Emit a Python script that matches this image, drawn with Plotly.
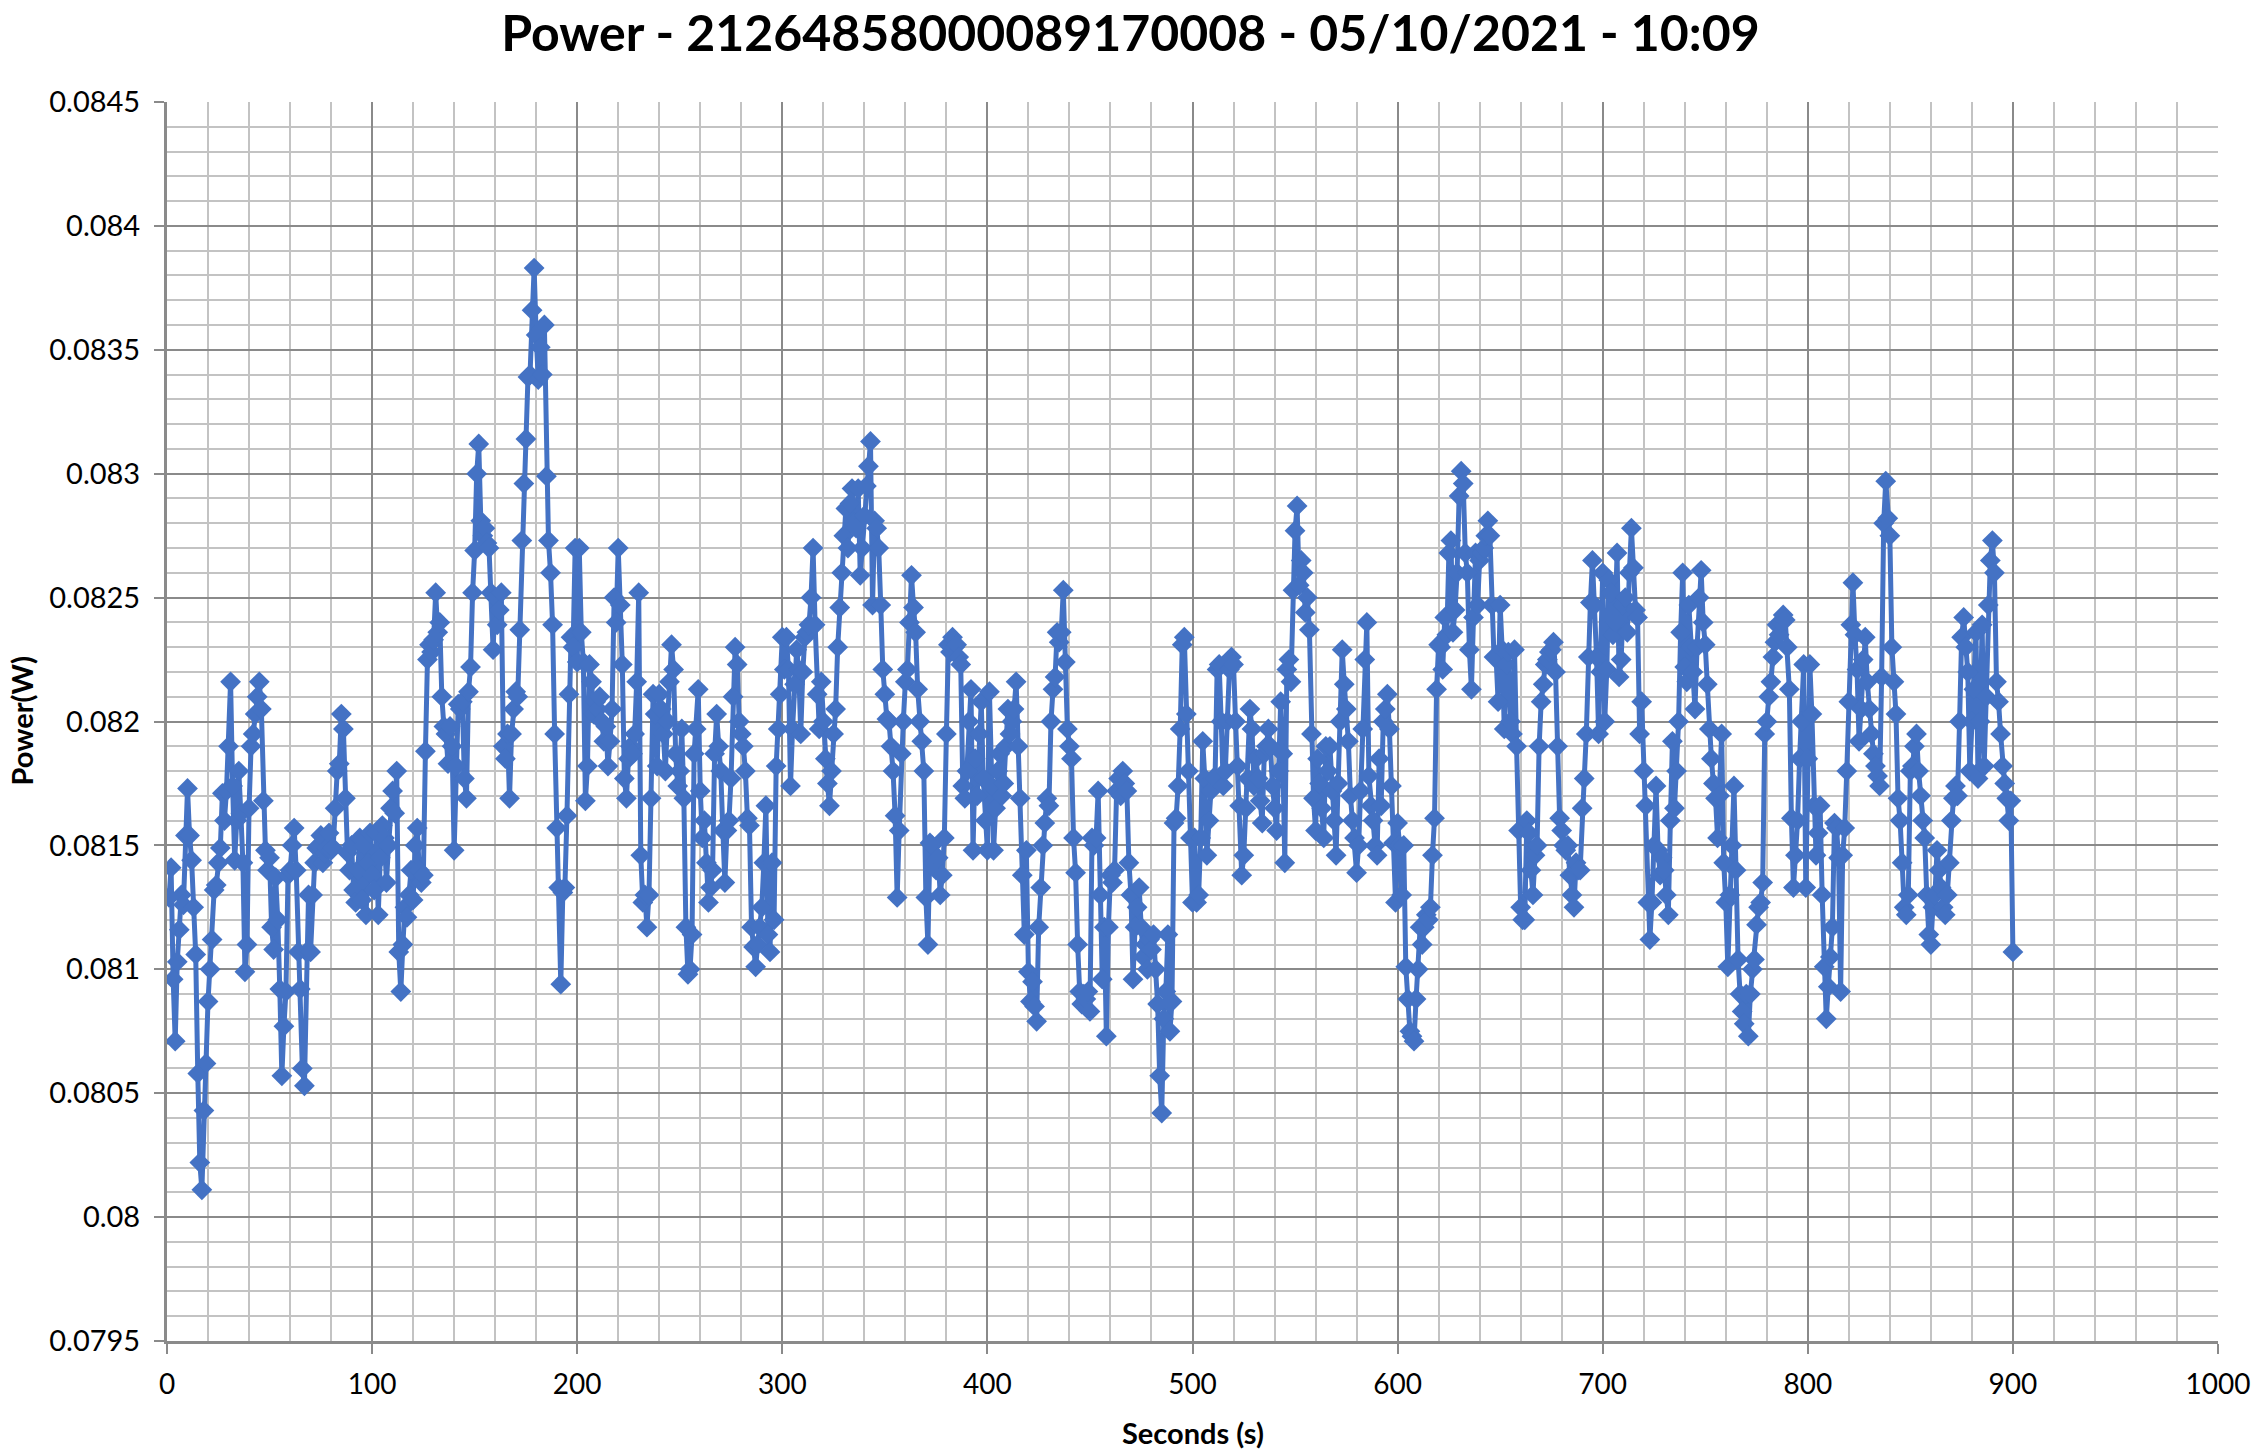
import plotly.graph_objects as go

# ---------------- data (one sample per second) ----------------
power_001_100 = [
    0.08129, 0.08141, 0.08096, 0.08071, 0.08103, 0.08116, 0.08130, 0.08126, 0.08154, 0.08173,
    0.08154, 0.08144, 0.08125, 0.08106, 0.08058, 0.08022, 0.08011, 0.08043, 0.08062, 0.08087,
    0.08100, 0.08112, 0.08132, 0.08134, 0.08143, 0.08149, 0.08171, 0.08160, 0.08172, 0.08190,
    0.08216, 0.08174, 0.08144, 0.08160, 0.08180, 0.08163, 0.08143, 0.08099, 0.08110, 0.08165,
    0.08190, 0.08195, 0.08203, 0.08210, 0.08216, 0.08205, 0.08168, 0.08148, 0.08140, 0.08145,
    0.08117, 0.08108, 0.08137, 0.08120, 0.08092, 0.08057, 0.08077, 0.08091, 0.08138, 0.08140,
    0.08150, 0.08157, 0.08140, 0.08107, 0.08092, 0.08060, 0.08053, 0.08107, 0.08130, 0.08107,
    0.08130, 0.08143, 0.08149, 0.08150, 0.08154, 0.08143, 0.08147, 0.08149, 0.08155, 0.08148,
    0.08149, 0.08165, 0.08180, 0.08183, 0.08203, 0.08197, 0.08169, 0.08147, 0.08140, 0.08150,
    0.08132, 0.08127, 0.08140, 0.08153, 0.08128, 0.08150, 0.08122, 0.08143, 0.08155, 0.08138,
]
power_101_200 = [
    0.08132, 0.08155, 0.08122, 0.08145, 0.08158, 0.08153, 0.08135, 0.08150, 0.08165, 0.08172,
    0.08163, 0.08180, 0.08107, 0.08091, 0.08110, 0.08125, 0.08121, 0.08130, 0.08140, 0.08128,
    0.08150, 0.08157, 0.08140, 0.08135, 0.08138, 0.08188, 0.08225, 0.08231, 0.08228, 0.08233,
    0.08252, 0.08236, 0.08240, 0.08210, 0.08198, 0.08195, 0.08183, 0.08198, 0.08190, 0.08148,
    0.08182, 0.08207, 0.08205, 0.08208, 0.08177, 0.08169, 0.08212, 0.08222, 0.08252, 0.08269,
    0.08300, 0.08312, 0.08281, 0.08275, 0.08278, 0.08272, 0.08270, 0.08252, 0.08229, 0.08250,
    0.08239, 0.08245, 0.08252, 0.08190, 0.08185, 0.08195, 0.08169, 0.08195, 0.08205, 0.08212,
    0.08210, 0.08237, 0.08273, 0.08296, 0.08314, 0.08339, 0.08340, 0.08366, 0.08383, 0.08356,
    0.08338, 0.08351, 0.08340, 0.08360, 0.08299, 0.08273, 0.08260, 0.08239, 0.08195, 0.08157,
    0.08133, 0.08094, 0.08131, 0.08133, 0.08162, 0.08211, 0.08234, 0.08230, 0.08270, 0.08224,
]
power_201_300 = [
    0.08270, 0.08236, 0.08224, 0.08168, 0.08182, 0.08223, 0.08216, 0.08203, 0.08208, 0.08205,
    0.08210, 0.08200, 0.08192, 0.08198, 0.08182, 0.08192, 0.08205, 0.08250, 0.08240, 0.08270,
    0.08247, 0.08223, 0.08177, 0.08169, 0.08185, 0.08190, 0.08187, 0.08195, 0.08216, 0.08252,
    0.08146, 0.08127, 0.08130, 0.08117, 0.08130, 0.08169, 0.08211, 0.08203, 0.08182, 0.08211,
    0.08205, 0.08195, 0.08180, 0.08200, 0.08216, 0.08231, 0.08221, 0.08187, 0.08174, 0.08180,
    0.08197, 0.08169, 0.08117, 0.08098, 0.08100, 0.08114, 0.08187, 0.08197, 0.08213, 0.08172,
    0.08153, 0.08160, 0.08143, 0.08127, 0.08133, 0.08140, 0.08187, 0.08203, 0.08190, 0.08180,
    0.08156, 0.08135, 0.08156, 0.08160, 0.08177, 0.08210, 0.08230, 0.08223, 0.08200, 0.08195,
    0.08190, 0.08180, 0.08161, 0.08158, 0.08117, 0.08109, 0.08101, 0.08110, 0.08117, 0.08125,
    0.08143, 0.08166, 0.08114, 0.08107, 0.08143, 0.08120, 0.08182, 0.08197, 0.08211, 0.08234,
]
power_301_400 = [
    0.08221, 0.08234, 0.08221, 0.08174, 0.08197, 0.08215, 0.08229, 0.08221, 0.08195, 0.08220,
    0.08234, 0.08236, 0.08239, 0.08250, 0.08270, 0.08239, 0.08211, 0.08197, 0.08216, 0.08200,
    0.08185, 0.08175, 0.08166, 0.08180, 0.08195, 0.08205, 0.08230, 0.08246, 0.08260, 0.08275,
    0.08286, 0.08270, 0.08288, 0.08294, 0.08280, 0.08278, 0.08294, 0.08259, 0.08270, 0.08283,
    0.08295, 0.08303, 0.08313, 0.08247, 0.08281, 0.08278, 0.08270, 0.08247, 0.08221, 0.08211,
    0.08201, 0.08200, 0.08190, 0.08180, 0.08162, 0.08129, 0.08156, 0.08187, 0.08200, 0.08216,
    0.08221, 0.08240, 0.08259, 0.08246, 0.08236, 0.08213, 0.08200, 0.08192, 0.08180, 0.08129,
    0.08110, 0.08151, 0.08150, 0.08143, 0.08140, 0.08145, 0.08130, 0.08138, 0.08153, 0.08195,
    0.08231, 0.08228, 0.08234, 0.08230, 0.08231, 0.08226, 0.08223, 0.08174, 0.08169, 0.08180,
    0.08200, 0.08213, 0.08148, 0.08185, 0.08170, 0.08195, 0.08208, 0.08177, 0.08160, 0.08148,
]
power_401_500 = [
    0.08212, 0.08174, 0.08148, 0.08165, 0.08180, 0.08187, 0.08170, 0.08175, 0.08190, 0.08205,
    0.08195, 0.08200, 0.08205, 0.08216, 0.08190, 0.08169, 0.08138, 0.08114, 0.08148, 0.08099,
    0.08087, 0.08095, 0.08085, 0.08079, 0.08117, 0.08133, 0.08150, 0.08159, 0.08169, 0.08166,
    0.08200, 0.08213, 0.08218, 0.08236, 0.08232, 0.08236, 0.08253, 0.08224, 0.08197, 0.08190,
    0.08185, 0.08153, 0.08139, 0.08110, 0.08091, 0.08086, 0.08090, 0.08088, 0.08091, 0.08083,
    0.08153, 0.08150, 0.08153, 0.08172, 0.08130, 0.08096, 0.08117, 0.08073, 0.08117, 0.08138,
    0.08135, 0.08140, 0.08172, 0.08177, 0.08170, 0.08180, 0.08175, 0.08172, 0.08143, 0.08130,
    0.08096, 0.08117, 0.08125, 0.08133, 0.08117, 0.08105, 0.08110, 0.08100, 0.08112, 0.08108,
    0.08114, 0.08100, 0.08086, 0.08057, 0.08042, 0.08080, 0.08091, 0.08114, 0.08075, 0.08087,
    0.08159, 0.08161, 0.08174, 0.08197, 0.08231, 0.08234, 0.08203, 0.08180, 0.08153, 0.08127,
]
power_501_600 = [
    0.08153, 0.08127, 0.08130, 0.08153, 0.08192, 0.08177, 0.08146, 0.08160, 0.08172, 0.08177,
    0.08177, 0.08221, 0.08223, 0.08200, 0.08174, 0.08180, 0.08200, 0.08221, 0.08226, 0.08223,
    0.08200, 0.08182, 0.08166, 0.08138, 0.08146, 0.08165, 0.08177, 0.08205, 0.08197, 0.08174,
    0.08185, 0.08177, 0.08168, 0.08159, 0.08187, 0.08190, 0.08197, 0.08190, 0.08174, 0.08165,
    0.08156, 0.08180, 0.08208, 0.08187, 0.08143, 0.08221, 0.08225, 0.08216, 0.08253, 0.08277,
    0.08287, 0.08255, 0.08265, 0.08260, 0.08244, 0.08250, 0.08237, 0.08195, 0.08169, 0.08156,
    0.08185, 0.08175, 0.08165, 0.08153, 0.08190, 0.08180, 0.08190, 0.08172, 0.08160, 0.08146,
    0.08175, 0.08200, 0.08229, 0.08215, 0.08205, 0.08192, 0.08170, 0.08160, 0.08153, 0.08139,
    0.08150, 0.08172, 0.08197, 0.08225, 0.08240, 0.08178, 0.08166, 0.08160, 0.08150, 0.08146,
    0.08185, 0.08166, 0.08200, 0.08205, 0.08211, 0.08197, 0.08174, 0.08151, 0.08127, 0.08159,
]
power_601_700 = [
    0.08150, 0.08130, 0.08150, 0.08101, 0.08088, 0.08075, 0.08073, 0.08071, 0.08088, 0.08100,
    0.08117, 0.08110, 0.08117, 0.08122, 0.08120, 0.08125, 0.08146, 0.08161, 0.08213, 0.08231,
    0.08230, 0.08221, 0.08242, 0.08235, 0.08268, 0.08273, 0.08236, 0.08245, 0.08260, 0.08291,
    0.08301, 0.08296, 0.08268, 0.08260, 0.08229, 0.08213, 0.08242, 0.08268, 0.08247, 0.08265,
    0.08268, 0.08270, 0.08275, 0.08281, 0.08275, 0.08247, 0.08226, 0.08226, 0.08208, 0.08247,
    0.08229, 0.08197, 0.08223, 0.08228, 0.08200, 0.08195, 0.08229, 0.08190, 0.08156, 0.08125,
    0.08120, 0.08120, 0.08160, 0.08155, 0.08140, 0.08130, 0.08146, 0.08150, 0.08190, 0.08208,
    0.08215, 0.08223, 0.08225, 0.08228, 0.08229, 0.08232, 0.08220, 0.08190, 0.08161, 0.08156,
    0.08150, 0.08148, 0.08150, 0.08138, 0.08130, 0.08125, 0.08143, 0.08140, 0.08140, 0.08165,
    0.08177, 0.08195, 0.08226, 0.08248, 0.08265, 0.08247, 0.08226, 0.08195, 0.08220, 0.08260,
]
power_701_800 = [
    0.08200, 0.08221, 0.08257, 0.08252, 0.08235, 0.08240, 0.08268, 0.08218, 0.08225, 0.08247,
    0.08250, 0.08236, 0.08260, 0.08278, 0.08262, 0.08245, 0.08242, 0.08195, 0.08208, 0.08180,
    0.08166, 0.08127, 0.08112, 0.08127, 0.08150, 0.08174, 0.08148, 0.08138, 0.08145, 0.08140,
    0.08130, 0.08122, 0.08160, 0.08192, 0.08165, 0.08180, 0.08200, 0.08236, 0.08260, 0.08222,
    0.08216, 0.08247, 0.08230, 0.08220, 0.08205, 0.08230, 0.08250, 0.08261, 0.08240, 0.08231,
    0.08215, 0.08197, 0.08185, 0.08175, 0.08169, 0.08153, 0.08170, 0.08195, 0.08143, 0.08127,
    0.08101, 0.08130, 0.08150, 0.08174, 0.08140, 0.08104, 0.08090, 0.08083, 0.08078, 0.08090,
    0.08073, 0.08090, 0.08100, 0.08104, 0.08118, 0.08125, 0.08127, 0.08135, 0.08195, 0.08200,
    0.08210, 0.08216, 0.08226, 0.08232, 0.08239, 0.08235, 0.08240, 0.08243, 0.08241, 0.08230,
    0.08213, 0.08161, 0.08133, 0.08146, 0.08160, 0.08185, 0.08200, 0.08223, 0.08133, 0.08185,
]
power_801_900 = [
    0.08223, 0.08203, 0.08166, 0.08146, 0.08155, 0.08166, 0.08130, 0.08101, 0.08080, 0.08093,
    0.08105, 0.08117, 0.08159, 0.08157, 0.08145, 0.08091, 0.08146, 0.08157, 0.08180, 0.08208,
    0.08239, 0.08256, 0.08235, 0.08221, 0.08192, 0.08205, 0.08225, 0.08234, 0.08216, 0.08205,
    0.08195, 0.08187, 0.08182, 0.08178, 0.08174, 0.08218, 0.08280, 0.08297, 0.08282, 0.08275,
    0.08230, 0.08216, 0.08203, 0.08169, 0.08160, 0.08143, 0.08125, 0.08122, 0.08130, 0.08180,
    0.08182, 0.08190, 0.08195, 0.08180, 0.08170, 0.08160, 0.08153, 0.08130, 0.08114, 0.08110,
    0.08125, 0.08130, 0.08148, 0.08140, 0.08133, 0.08125, 0.08122, 0.08130, 0.08143, 0.08160,
    0.08169, 0.08174, 0.08170, 0.08200, 0.08234, 0.08242, 0.08230, 0.08220, 0.08180, 0.08200,
    0.08213, 0.08236, 0.08177, 0.08200, 0.08239, 0.08182, 0.08210, 0.08247, 0.08265, 0.08273,
    0.08260, 0.08216, 0.08208, 0.08195, 0.08182, 0.08175, 0.08169, 0.08160, 0.08168, 0.08107,
]

power_w = (power_001_100 + power_101_200 + power_201_300 + power_301_400 + power_401_500
           + power_501_600 + power_601_700 + power_701_800 + power_801_900)
seconds = list(range(1, len(power_w) + 1))

x_tick_values = [0, 100, 200, 300, 400, 500, 600, 700, 800, 900, 1000]
y_tick_values = [0.0795, 0.0800, 0.0805, 0.0810, 0.0815, 0.0820, 0.0825, 0.0830, 0.0835, 0.0840, 0.0845]
y_tick_labels = ["0.0795", "0.08", "0.0805", "0.081", "0.0815", "0.082", "0.0825", "0.083", "0.0835", "0.084", "0.0845"]

title_text = "Power - 21264858000089170008 - 05/10/2021 - 10:09"
x_title = "Seconds (s)"
y_title = "Power(W)"

# ---------------- figure ----------------
W, H = 2261, 1454
ML, MR, MT, MB = 167, 43, 102, 113
FONT = "Lato"
MAJOR = "#8a8a8a"
MINOR = "#c3c3c3"

fig = go.Figure()
fig.add_trace(go.Scatter(
    x=seconds, y=power_w, mode="lines+markers",
    line=dict(color="#4472C4", width=5),
    marker=dict(symbol="diamond", size=16, color="#4472C4", line=dict(width=0)),
    showlegend=False, hoverinfo="skip",
))

fig.update_layout(
    width=W, height=H,
    margin=dict(l=ML, r=MR, t=MT, b=MB, autoexpand=False),
    paper_bgcolor="white", plot_bgcolor="white",
    font=dict(family=FONT, color="#000000"),
    title=dict(text=f"<b>{title_text}</b>", x=0.5, xref="container", y=1 - 33 / H, yref="container",
               xanchor="center", yanchor="middle", font=dict(family=FONT, size=50, color="#000000")),
    xaxis=dict(
        range=[0, 1000], tickvals=x_tick_values, ticks="outside", ticklen=10, tickwidth=2,
        tickcolor=MAJOR, showgrid=True, gridcolor=MAJOR, gridwidth=2,
        showline=True, linecolor=MAJOR, linewidth=3, zeroline=False,
        tickfont=dict(family=FONT, size=28, color="#000000"), ticklabelstandoff=6,
        minor=dict(dtick=20, showgrid=True, gridcolor=MINOR, gridwidth=2, ticks=""),
    ),
    yaxis=dict(
        range=[0.0795, 0.0845], tickvals=y_tick_values, ticktext=y_tick_labels,
        ticks="outside", ticklen=10, tickwidth=2, tickcolor=MAJOR,
        showgrid=True, gridcolor=MAJOR, gridwidth=2,
        showline=True, linecolor=MAJOR, linewidth=3, zeroline=False,
        tickfont=dict(family=FONT, size=29, color="#000000"), ticklabelstandoff=8,
        minor=dict(dtick=0.0001, showgrid=True, gridcolor=MINOR, gridwidth=2, ticks=""),
    ),
)

fig.add_annotation(text=f"<b>{x_title}</b>", xref="paper", yref="paper", x=0.5,
                   y=-(1432 - (H - MB)) / (H - MT - MB), xanchor="center", yanchor="middle",
                   showarrow=False, font=dict(family=FONT, size=29, color="#000000"))
fig.add_annotation(text=f"<b>{y_title}</b>", xref="paper", yref="paper",
                   x=-(ML - 21) / (W - ML - MR), y=0.5, xanchor="center", yanchor="middle",
                   textangle=-90, showarrow=False, font=dict(family=FONT, size=29, color="#000000"))

fig.write_html("out.html", config={"displayModeBar": False},
               post_script="document.body.style.margin='0';document.body.style.overflow='hidden';")
